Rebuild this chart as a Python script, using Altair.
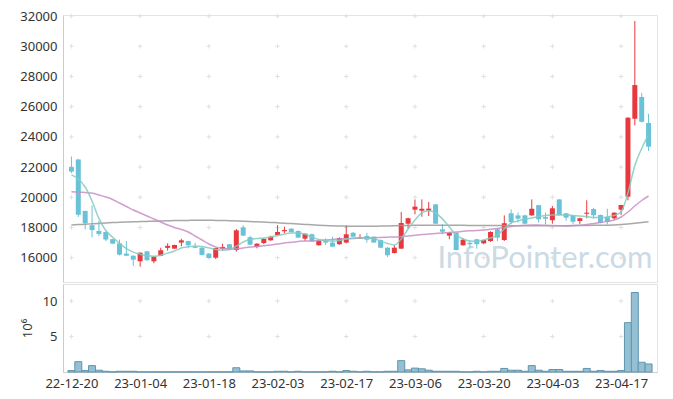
import altair as alt
import pandas as pd

# ---- data ----
tick_index = [0, 10, 20, 30, 40, 50, 60, 70, 80]
tick_labels = ["22-12-20", "23-01-04", "23-01-18", "23-02-03", "23-02-17",
               "23-03-06", "23-03-20", "23-04-03", "23-04-17"]
price_ticks = [16000, 18000, 20000, 22000, 24000, 26000, 28000, 30000, 32000]
vol_ticks = [5, 10]

open_ = [22000, 22500, 19100, 18150, 17770, 17700, 17230, 16950, 16270, 16130,
         15760, 16420, 15760, 16130, 16650, 16600, 17000, 17100, 16730, 16660,
         16270, 16000, 16580, 16890, 16510, 18010, 17350, 16710, 16970, 17150,
         17500, 17750, 17920, 17770, 17260, 17550, 16820, 17100, 17000, 16890,
         17000, 17650, 17260, 17440, 17390, 17170, 16660, 16310, 16600, 18250,
         19180, 19110, 19120, 19530, 17880, 17460, 17650, 16820, 16990, 17220,
         16950, 17100, 17880, 17170, 18940, 18800, 18800, 18800, 19480, 18690,
         18480, 19860, 18940, 18780, 18430, 18910, 19220, 18830, 18690, 18610,
         19180, 20040, 25200, 26640, 24920]
high = [22700, 22550, 19100, 19450, 18430, 17750, 17250, 17200, 17100, 16150,
        16350, 16450, 16100, 16660, 16950, 16860, 17250, 17130, 16990, 16700,
        16300, 16650, 16930, 16900, 17900, 18150, 17450, 16950, 17300, 17450,
        18150, 18050, 17950, 17800, 17600, 17600, 17200, 17280, 17390, 17350,
        18150, 17700, 17550, 17650, 17400, 17200, 16700, 16840, 19030, 18650,
        19850, 19860, 19690, 19550, 18210, 17680, 17680, 17300, 17150, 17250,
        17200, 17750, 17950, 18800, 19200, 18990, 18850, 19860, 19500, 18980,
        19420, 19870, 18960, 18800, 18650, 19800, 19300, 18850, 19240, 19000,
        19500, 25300, 31670, 26920, 25530]
low = [21600, 18700, 17880, 17350, 17440, 17100, 16900, 16150, 16100, 15450,
       15400, 15800, 15630, 16100, 16470, 16580, 16750, 16620, 16640, 16150,
       15950, 15910, 16440, 16480, 16400, 17430, 16830, 16620, 16900, 17120,
       17450, 17620, 17650, 17300, 17100, 17050, 16800, 16840, 16700, 16850,
       16950, 17380, 17250, 17000, 16990, 16640, 16050, 16280, 16580, 17920,
       18870, 18710, 18760, 18230, 17550, 17220, 16480, 16800, 16660, 16600,
       16900, 17050, 17100, 17100, 18210, 18330, 18230, 18780, 18320, 18210,
       18250, 18800, 18450, 18210, 18240, 18610, 18600, 18280, 18200, 18500,
       18830, 19800, 24760, 24950, 23060]
close = [21700, 18850, 18280, 17830, 17570, 17200, 16930, 16200, 16130, 15870,
         16330, 15830, 16070, 16490, 16780, 16840, 17150, 16820, 16650, 16180,
         15980, 16640, 16710, 16510, 17810, 17460, 16860, 16930, 17240, 17390,
         17700, 17830, 17690, 17330, 17590, 17090, 17120, 17000, 16730, 17300,
         17550, 17390, 17370, 17190, 17000, 16660, 16160, 16660, 18300, 18610,
         19380, 19240, 19250, 18250, 17720, 17650, 16510, 17190, 16890, 16890,
         17170, 17700, 17330, 18280, 18360, 18580, 18250, 19240, 18540, 18580,
         19270, 18830, 18650, 18380, 18610, 18980, 18810, 18300, 18360, 18980,
         19490, 25270, 27430, 25000, 23350]
volume_m = [0.2, 1.45, 0.2, 0.9, 0.25, 0.1, 0.02, 0.1, 0.1, 0.1,
            0.02, 0.02, 0.02, 0.02, 0.02, 0.02, 0.02, 0.02, 0.02, 0.02,
            0.02, 0.02, 0.02, 0.02, 0.6, 0.15, 0.15, 0.02, 0.02, 0.02,
            0.1, 0.1, 0.02, 0.1, 0.02, 0.02, 0.02, 0.02, 0.1, 0.02,
            0.2, 0.1, 0.02, 0.1, 0.02, 0.02, 0.1, 0.1, 1.6, 0.3,
            0.55, 0.45, 0.25, 0.1, 0.1, 0.1, 0.1, 0.02, 0.02, 0.1,
            0.02, 0.1, 0.1, 0.5, 0.25, 0.25, 0.1, 0.9, 0.25, 0.1,
            0.35, 0.35, 0.1, 0.1, 0.1, 0.5, 0.1, 0.2, 0.1, 0.1,
            0.2, 6.95, 11.2, 1.37, 1.13]
ma_short = [21480, 21210, 20680, 19750, 18600, 17800, 17350, 16950, 16600, 16370,
            16230, 16130, 16100, 16160, 16300, 16440, 16640, 16720, 16780, 16740,
            16650, 16540, 16490, 16540, 16760, 17040, 17200, 17270, 17300, 17370,
            17470, 17570, 17630, 17630, 17550, 17370, 17200, 17140, 17100, 17140,
            17240, 17300, 17320, 17300, 17260, 17100, 16940, 16840, 17240, 17900,
            18500, 18960, 19100, 18960, 18570, 18030, 17500, 17240, 17100, 17070,
            17170, 17300, 17500, 17900, 18300, 18430, 18560, 18630, 18730, 18800,
            18830, 18830, 18830, 18800, 18760, 18730, 18660, 18660, 18700, 18800,
            19030, 20290, 22100, 23230, 24150]
ma_mid = [20370, 20350, 20316, 20283, 20151, 20018, 19853, 19621, 19389, 19158,
          18959, 18761, 18562, 18363, 18165, 17999, 17867, 17701, 17437, 17172,
          16907, 16708, 16609, 16576, 16589, 16642, 16708, 16741, 16788, 16841,
          16907, 16973, 17019, 17072, 17106, 17106, 17139, 17172, 17205, 17238,
          17251, 17271, 17304, 17317, 17324, 17337, 17357, 17370, 17403, 17437,
          17483, 17536, 17569, 17602, 17635, 17668, 17701, 17748, 17781, 17801,
          17834, 17880, 17933, 17999, 18065, 18112, 18145, 18165, 18165, 18152,
          18132, 18112, 18099, 18112, 18145, 18198, 18264, 18330, 18410, 18496,
          18694, 19025, 19423, 19787, 20085]
ma_long = [18165, 18191, 18218, 18244, 18271, 18297, 18324, 18343, 18363, 18377,
           18390, 18403, 18416, 18430, 18443, 18456, 18463, 18469, 18476, 18476,
           18476, 18469, 18463, 18449, 18436, 18416, 18396, 18377, 18357, 18337,
           18310, 18284, 18257, 18231, 18204, 18178, 18152, 18132, 18112, 18099,
           18085, 18079, 18079, 18079, 18085, 18092, 18099, 18112, 18125, 18138,
           18145, 18145, 18145, 18145, 18145, 18145, 18145, 18140, 18138, 18135,
           18132, 18130, 18128, 18125, 18122, 18120, 18118, 18118, 18118, 18118,
           18118, 18120, 18122, 18125, 18130, 18135, 18140, 18145, 18152, 18165,
           18191, 18231, 18284, 18337, 18383]

# ---- styling ----
RED = "#e8383d"
BLUE = "#6ac2d9"
FONT = "Noto Sans"
n = len(close)
idx = list(range(n))

df = pd.DataFrame({"i": idx, "open": open_, "high": high, "low": low,
                   "close": close, "vol": volume_m})
ma_df = pd.concat([
    pd.DataFrame({"i": idx, "v": ma_long, "s": "long"}),
    pd.DataFrame({"i": idx, "v": ma_mid, "s": "mid"}),
    pd.DataFrame({"i": idx, "v": ma_short, "s": "short"}),
])
grid_top = pd.DataFrame([{"i": a, "v": b} for a in tick_index for b in price_ticks])
grid_bot = pd.DataFrame([{"i": a, "v": b} for a in tick_index for b in vol_ticks])
wm = pd.DataFrame({"t": ["InfoPointer.com"]})

xscale = alt.Scale(domain=[-0.5, n - 0.5], nice=False, zero=False)
yscale = alt.Scale(domain=[14390, 32070], nice=False, zero=False)
vscale = alt.Scale(domain=[0, 12.4], nice=False)

label_expr = "{" + ",".join(f"'{a}':'{b}'" for a, b in zip(tick_index, tick_labels)) + "}[datum.value]"

cross = "M-1,0L1,0M0,-1L0,1"
W = 594

y_axis = alt.Axis(values=price_ticks, format="d", ticks=False, grid=False,
                  domainColor="#cccccc", labelColor="#333333", labelFontSize=13,
                  labelFont=FONT, labelPadding=6, title=None)
x_none = alt.X("i:Q", scale=xscale, axis=None)
up = "datum.close >= datum.open"

grid_layer = alt.Chart(grid_top).mark_point(shape=cross, size=20, filled=False,
                                            stroke="#e0e0e0", strokeWidth=1, opacity=1).encode(
    x=x_none, y=alt.Y("v:Q", scale=yscale, axis=y_axis))

wm_layer = alt.Chart(wm).mark_text(font="Lato", fontSize=31,
                                   color="#cbdae4", align="center", baseline="middle").encode(
    text="t:N", x=alt.value(482), y=alt.value(244))

wick = alt.Chart(df).mark_rule(strokeWidth=1).encode(
    x=x_none, y=alt.Y("low:Q", scale=yscale, axis=y_axis), y2="high:Q",
    color=alt.condition(up, alt.value(RED), alt.value(BLUE)))

body = alt.Chart(df).mark_bar(size=5).encode(
    x=x_none, y=alt.Y("open:Q", scale=yscale, axis=y_axis), y2="close:Q",
    color=alt.condition(up, alt.value(RED), alt.value(BLUE)))

lines = alt.Chart(ma_df).mark_line(strokeWidth=1.5, opacity=0.85, interpolate="monotone").encode(
    x=x_none, y=alt.Y("v:Q", scale=yscale, axis=y_axis),
    color=alt.Color("s:N", scale=alt.Scale(domain=["long", "mid", "short"],
                                           range=["#999999", "#c98dc6", "#82cbbd"]), legend=None),
    detail="s:N")

top = alt.layer(grid_layer, wm_layer, wick, body, lines).properties(width=W, height=267)

x_axis = alt.Axis(values=tick_index, labelExpr=label_expr, ticks=False, grid=False,
                  domainColor="#cccccc", labelColor="#333333", labelFontSize=13,
                  labelFont=FONT, labelPadding=5, title=None)
v_axis = alt.Axis(values=vol_ticks, ticks=False, grid=False, domainColor="#cccccc",
                  labelColor="#333333", labelFontSize=13, labelFont=FONT, labelPadding=6,
                  title="10⁶", titleFont=FONT, titleFontSize=13, titleFontWeight="normal",
                  titleColor="#333333", titlePadding=8)

grid_b = alt.Chart(grid_bot).mark_point(shape=cross, size=20, filled=False,
                                        stroke="#e0e0e0", strokeWidth=1, opacity=1).encode(
    x=alt.X("i:Q", scale=xscale, axis=x_axis), y=alt.Y("v:Q", scale=vscale, axis=v_axis))

vol = alt.Chart(df).mark_bar(size=7, fill="#95c0d3", stroke="#5f94ae", strokeWidth=1).encode(
    x=alt.X("i:Q", scale=xscale, axis=x_axis), y=alt.Y("vol:Q", scale=vscale, axis=v_axis))

bottom = alt.layer(grid_b, vol).properties(width=W, height=88)

chart = alt.vconcat(top, bottom, spacing=0).properties(
    padding={"left": 11, "top": 1, "right": 5, "bottom": 5}
).configure_view(stroke="#e3e3e3").configure_axis(labelFont=FONT)

chart.save("out.html", embed_options={"renderer": "svg", "actions": False})
